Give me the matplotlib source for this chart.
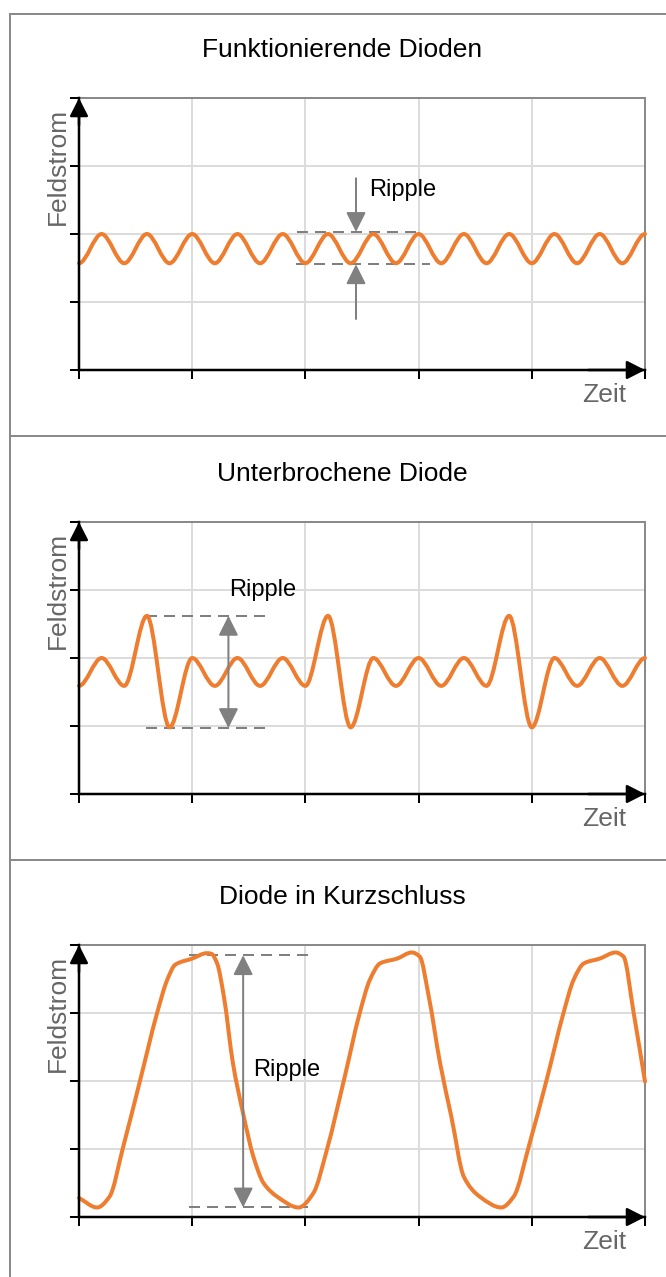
import numpy as np
import matplotlib
matplotlib.use("Agg")
import matplotlib.pyplot as plt
from matplotlib.path import Path
from matplotlib.patches import PathPatch
from matplotlib.lines import Line2D

plt.rcParams['font.family'] = ['Liberation Sans', 'DejaVu Sans']

# ---------------- data ----------------
titles = ["Funktionierende Dioden", "Unterbrochene Diode", "Diode in Kurzschluss"]
x_label = "Zeit"
y_label = "Feldstrom"
ripple_label = "Ripple"

t_ok = [0.0, 0.2, 0.4, 0.6, 0.8, 1.0, 1.2, 1.4, 1.6, 1.8, 2.0, 2.2, 2.4,
        2.6, 2.8, 3.0, 3.2, 3.4, 3.6, 3.8, 4.0, 4.2, 4.4, 4.6, 4.8, 5.0]
v_ok = [1.57, 2.0, 1.57, 2.0, 1.57, 2.0, 1.57, 2.0, 1.57, 2.0, 1.57, 2.0, 1.57,
        2.0, 1.57, 2.0, 1.57, 2.0, 1.57, 2.0, 1.57, 2.0, 1.57, 2.0, 1.57, 2.0]

t_open = [0.0, 0.2, 0.4, 0.6, 0.8, 1.0, 1.2, 1.4, 1.6, 1.8, 2.0, 2.2, 2.4,
          2.6, 2.8, 3.0, 3.2, 3.4, 3.6, 3.8, 4.0, 4.2, 4.4, 4.6, 4.8, 5.0]
v_open = [1.59, 2.0, 1.59, 2.62, 0.98, 2.0, 1.59, 2.0, 1.59, 2.0, 1.59, 2.62, 0.98,
          2.0, 1.59, 2.0, 1.59, 2.0, 1.59, 2.62, 0.98, 2.0, 1.59, 2.0, 1.59, 2.0]

t_short = [0.00, 0.16, 0.27, 0.39, 0.54, 0.69, 0.78, 0.85, 1.00, 1.13, 1.17, 1.22,
           1.28, 1.36, 1.45, 1.54, 1.63, 1.75, 1.94,
           2.07, 2.19, 2.34, 2.48, 2.57, 2.66, 2.81, 2.94, 3.01, 3.09,
           3.19, 3.29, 3.40, 3.54, 3.73,
           3.84, 3.98, 4.13, 4.28, 4.37, 4.46, 4.60, 4.74, 4.81, 4.90,
           5.00]
v_short = [0.28, 0.14, 0.30, 1.03, 2.01, 3.00, 3.49, 3.71, 3.80, 3.88, 3.87, 3.73,
           3.24, 2.26, 1.52, 0.89, 0.50, 0.30, 0.14,
           0.35, 0.99, 2.01, 3.00, 3.49, 3.73, 3.80, 3.89, 3.83, 3.24,
           2.26, 1.47, 0.59, 0.30, 0.14,
           0.30, 1.08, 2.01, 3.00, 3.49, 3.73, 3.80, 3.89, 3.83, 3.00,
           1.99]

x_ticks = [0, 1, 2, 3, 4, 5]
y_ticks = [0, 1, 2, 3, 4]

# ---------------- style ----------------
W, H = 666, 1277
ORANGE = '#EE7D2F'
GRAY = '#808080'
FRAME = '#8a8a8a'
GRID = '#dcdcdc'
LABEL = '#666666'
px = 72 / 100.0  # points per pixel


def pchip_slopes(x, y, end_zero):
    x = np.asarray(x, float)
    y = np.asarray(y, float)
    h = np.diff(x)
    d = np.diff(y) / h
    m = np.zeros_like(y)
    for k in range(1, len(y) - 1):
        if d[k - 1] * d[k] > 0:
            w1 = 2 * h[k] + h[k - 1]
            w2 = h[k] + 2 * h[k - 1]
            m[k] = (w1 + w2) / (w1 / d[k - 1] + w2 / d[k])
    if end_zero:
        m[0] = 0.0
        m[-1] = 0.0
    else:
        m[0] = d[0]
        m[-1] = d[-1]
    return x, y, m


def smooth_path(x, y, end_zero):
    x, y, m = pchip_slopes(x, y, end_zero)
    verts = [(x[0], y[0])]
    codes = [Path.MOVETO]
    for k in range(len(x) - 1):
        h = x[k + 1] - x[k]
        verts += [(x[k] + h / 3, y[k] + m[k] * h / 3),
                  (x[k + 1] - h / 3, y[k + 1] - m[k + 1] * h / 3),
                  (x[k + 1], y[k + 1])]
        codes += [Path.CURVE4] * 3
    return Path(verts, codes)


fig = plt.figure(figsize=(W / 100, H / 100), dpi=100)


def fline(x0, y0, x1, y1):
    fig.add_artist(Line2D([x0 / W, x1 / W], [1 - y0 / H, 1 - y1 / H],
                          transform=fig.transFigure, color=FRAME, lw=2 * px))


fline(10, 14, W, 14)
fline(10, 436, W, 436)
fline(10, 860, W, 860)
fline(10, 14, 10, H)

axis_bottoms = [370, 794, 1217]  # pixel y of x-axis
ax_left, ax_right, ax_h = 79, 645, 272

series = [(t_ok, v_ok, True), (t_open, v_open, True), (t_short, v_short, False)]

axes = []
for i, (tt, vv, ez) in enumerate(series):
    yb = axis_bottoms[i]
    ax = fig.add_axes([ax_left / W, 1 - yb / H, (ax_right - ax_left) / W, ax_h / H])
    axes.append(ax)
    ax.set_xlim(0, 5)
    ax.set_ylim(0, 4)
    ax.set_xticks(x_ticks)
    ax.set_yticks(y_ticks)
    ax.set_xticklabels([])
    ax.set_yticklabels([])
    ax.tick_params(direction='out', length=9 * px, width=2 * px, color='black')
    ax.grid(True, color=GRID, lw=2 * px)
    ax.set_axisbelow(True)
    for s in ['left', 'bottom']:
        ax.spines[s].set_color('black')
        ax.spines[s].set_linewidth(2.5 * px)
        ax.spines[s].set_zorder(5)
    for s in ['top', 'right']:
        ax.spines[s].set_color(FRAME)
        ax.spines[s].set_linewidth(2 * px)
    ax.annotate('', xy=(0, 1), xytext=(0, 0.9), xycoords='axes fraction',
                arrowprops=dict(arrowstyle='-|>,head_length=0.55,head_width=0.28',
                                color='black', lw=2.5 * px, shrinkA=0, shrinkB=0,
                                mutation_scale=20), annotation_clip=False, zorder=6)
    ax.annotate('', xy=(1, 0), xytext=(0.9, 0), xycoords='axes fraction',
                arrowprops=dict(arrowstyle='-|>,head_length=0.55,head_width=0.28',
                                color='black', lw=2.5 * px, shrinkA=0, shrinkB=0,
                                mutation_scale=20), annotation_clip=False, zorder=6)
    ax.add_patch(PathPatch(smooth_path(tt, vv, ez), facecolor='none',
                           edgecolor=ORANGE, lw=4 * px, capstyle='round',
                           joinstyle='round', zorder=4, clip_on=False))
    ax.text(-0.037, 0.963, y_label, transform=ax.transAxes, rotation=90,
            ha='center', va='top', fontsize=19, color=LABEL)
    ax.text(0.966, -0.092, x_label, transform=ax.transAxes, ha='right',
            va='center', fontsize=19, color=LABEL)
    fig.text(342 / W, 1 - (yb - 320) / H, titles[i], ha='center', va='center',
             fontsize=19, color='black')

dash = dict(color=GRAY, lw=2 * px, dashes=(5.5, 3.5), zorder=3)
head = 'head_length=0.6,head_width=0.3'

# panel 1 annotation
ax = axes[0]
top, bot = max(v_ok), min(v_ok)
ax.plot([1.93, 3.03], [top + 0.03, top + 0.03], **dash)
ax.plot([1.92, 3.10], [bot - 0.015, bot - 0.015], **dash)
ax.annotate('', xy=(2.447, top + 0.03), xytext=(2.447, 2.82),
            arrowprops=dict(arrowstyle='-|>,' + head, color=GRAY, lw=2 * px,
                            shrinkA=0, shrinkB=0, mutation_scale=20), zorder=5)
ax.annotate('', xy=(2.447, bot - 0.015), xytext=(2.447, 0.75),
            arrowprops=dict(arrowstyle='-|>,' + head, color=GRAY, lw=2 * px,
                            shrinkA=0, shrinkB=0, mutation_scale=20), zorder=5)
ax.text(2.56, 2.65, ripple_label, ha='left', va='center', fontsize=17, color='black')

# panel 2 annotation
ax = axes[1]
top, bot = max(v_open), min(v_open)
ax.plot([0.59, 1.66], [top, top], **dash)
ax.plot([0.59, 1.69], [bot - 0.01, bot - 0.01], **dash)
ax.annotate('', xy=(1.32, top), xytext=(1.32, bot - 0.01),
            arrowprops=dict(arrowstyle='<|-|>,' + head, color=GRAY, lw=2 * px,
                            shrinkA=0, shrinkB=0, mutation_scale=20), zorder=5)
ax.text(1.33, 3.0, ripple_label, ha='left', va='center', fontsize=17, color='black')

# panel 3 annotation
ax = axes[2]
top, bot = max(v_short) - 0.04, min(v_short)
ax.plot([0.97, 2.07], [top, top], **dash)
ax.plot([0.97, 2.07], [bot, bot], **dash)
ax.annotate('', xy=(1.45, top), xytext=(1.45, bot),
            arrowprops=dict(arrowstyle='<|-|>,' + head, color=GRAY, lw=2 * px,
                            shrinkA=0, shrinkB=0, mutation_scale=20), zorder=5)
ax.text(1.54, 2.16, ripple_label, ha='left', va='center', fontsize=17, color='black')

fig.savefig('out.png', dpi=100)
